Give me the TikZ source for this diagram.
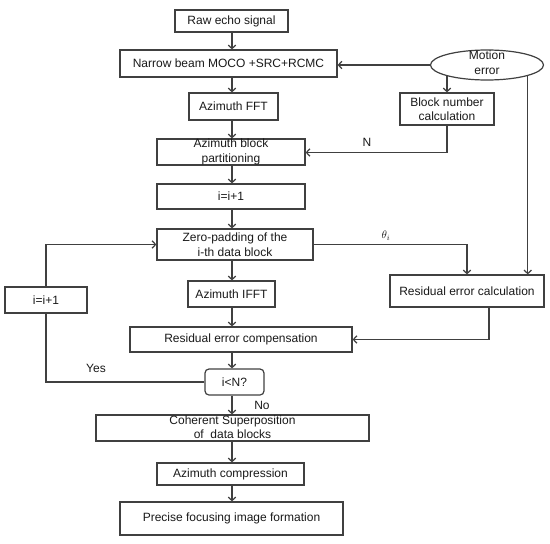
\documentclass[tikz,border=0pt]{standalone}
\usepackage{fontspec}
\setmainfont{Liberation Sans}
\usetikzlibrary{arrows.meta,shapes.geometric}
\begin{document}
\begin{tikzpicture}[x=1pt,y=-1pt,
  font=\fontsize{12}{14.5}\selectfont,
  line width=1.2pt,
  every node/.style={text=black!90},
  box/.style={draw=black!75, rectangle, inner sep=0pt, align=center},
  arr/.style={draw=black!75, -{Straight Barb[length=3.5pt,width=7.5pt]}},
  ln/.style={draw=black!75}]
\useasboundingbox (0,0) rectangle (550,544);
\coordinate (ax) at (232,0);
\node[box, minimum width=113, minimum height=22] (raw) at (231.5,21) {Raw echo signal};
\node[box, minimum width=217, minimum height=27] (narrow) at (228.5,63.5) {Narrow beam MOCO +SRC+RCMC};
\node[draw=black!75, ellipse, minimum width=113, minimum height=30, inner sep=0pt] (motion) at (487,65) {};
\node[align=center, inner sep=0pt] (motiontxt) at (487,62.5) {Motion\\error};
\node[box, minimum width=89, minimum height=27] (azfft) at (233.5,106.5) {Azimuth FFT};
\node[box, minimum width=94, minimum height=32] (bn) at (447,109) {Block number\\calculation};
\node[box, minimum width=148, minimum height=26] (abp) at (231,152) {Azimuth block\\partitioning};
\node[box, minimum width=148, minimum height=25] (inc) at (231,196.5) {i=i+1};
\node[box, minimum width=156, minimum height=31] (zp) at (235,244.5) {Zero-padding of the\\i-th data block};
\node[box, minimum width=82, minimum height=26] (linc) at (46,300) {i=i+1};
\node[box, minimum width=87, minimum height=26] (ifft) at (231.5,294) {Azimuth IFFT};
\node[box, minimum width=154, minimum height=32] (rec) at (467,291) {Residual error calculation};
\node[box, minimum width=222, minimum height=25] (comp) at (241,339.5) {Residual error compensation};
\node[box, rounded corners=4pt, minimum width=59, minimum height=26] (iln) at (234.5,382) {i<N?};
\node[box, minimum width=273, minimum height=26] (coh) at (232.5,428) {};
\node[align=center, inner sep=0pt] (cohtxt) at (232.5,427) {Coherent Superposition\\of \ data blocks};
\node[box, minimum width=147, minimum height=22] (azc) at (230.5,474) {Azimuth compression};
\node[box, minimum width=223, minimum height=33] (pff) at (231.5,518.5) {Precise focusing image formation};
% labels
\node (nlab) at (367,142) {N};
\node[font=\fontsize{11}{13}\selectfont] (thlab) at (386,236) {$\theta_i$};
\node (yes) at (96,368) {Yes};
\node (no) at (262,405) {No};
% main flow
\draw[arr] (raw.south -| ax) -- (narrow.north -| ax);
\draw[arr] (narrow.south -| ax) -- (azfft.north -| ax);
\draw[arr] (azfft.south -| ax) -- (abp.north -| ax);
\draw[arr] (abp.south -| ax) -- (inc.north -| ax);
\draw[arr] (inc.south -| ax) -- (zp.north -| ax);
\draw[arr] (zp.south -| ax) -- (ifft.north -| ax);
\draw[arr] (ifft.south -| ax) -- (comp.north -| ax);
\draw[arr] (comp.south -| ax) -- (iln.north -| ax);
\draw[arr] (iln.south -| ax) -- (coh.north -| ax);
\draw[arr] (coh.south -| ax) -- (azc.north -| ax);
\draw[arr] (azc.south -| ax) -- (pff.north -| ax);
% motion error branch
\draw[arr] (motion.west) -- (motion.west -| narrow.east);
\draw[arr] (bn.north |- motion.194.8) -- (bn.north);
\draw[arr] (motion.345.7) -- (motion.345.7 |- rec.north);
\draw[arr] (bn.south) |- (abp.east |- 0,152.5);
% residual path
\draw[arr] (zp.east) -| (rec.north);
\draw[arr] (rec.south -| 489,0) |- (comp.east);
% loop
\draw[ln] (iln.west) -| (linc.south);
\draw[arr] (linc.north) |- (zp.west);
\end{tikzpicture}
\end{document}
